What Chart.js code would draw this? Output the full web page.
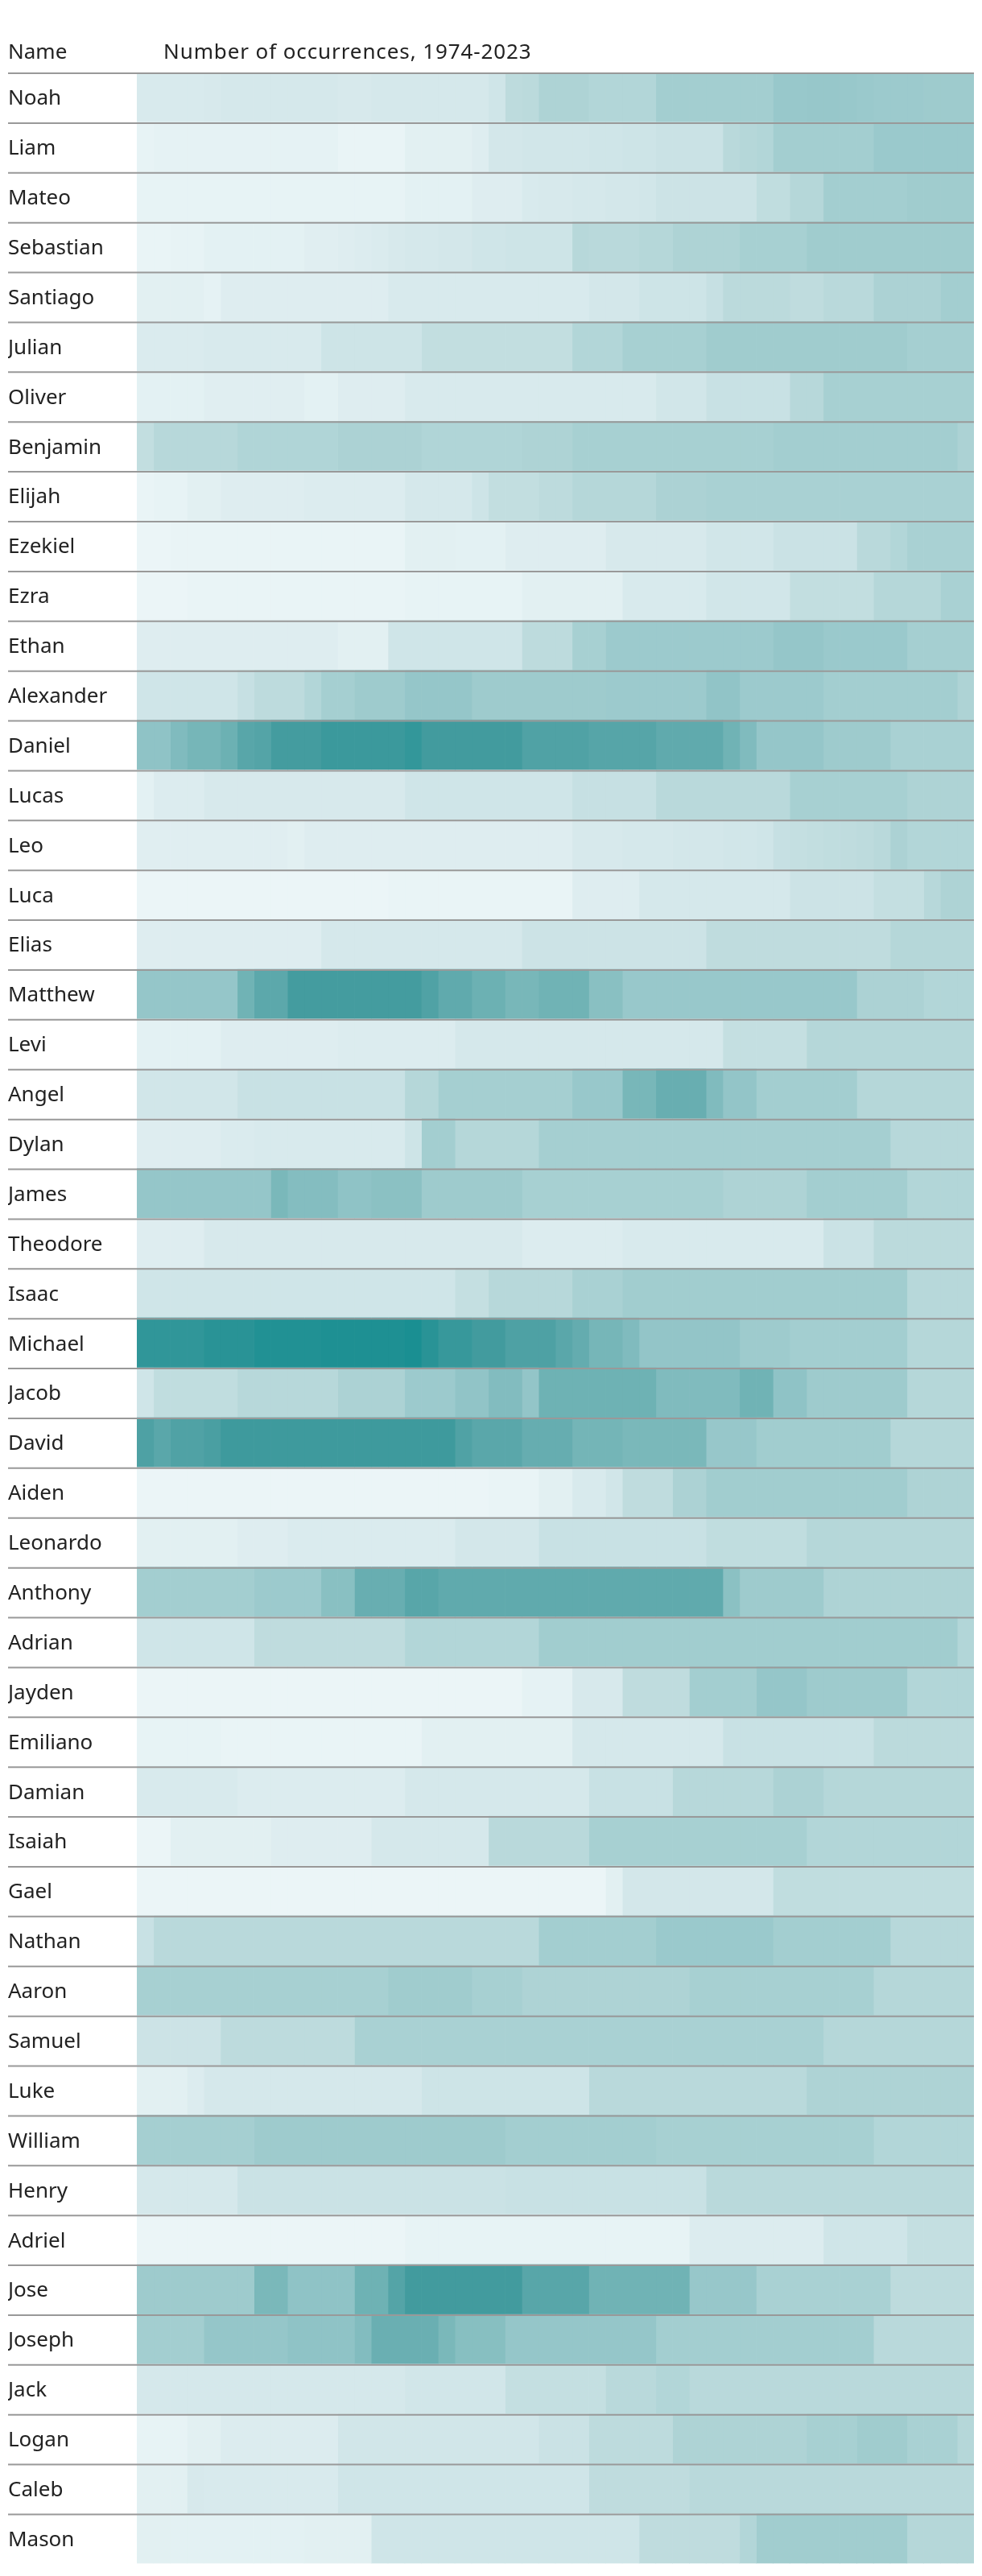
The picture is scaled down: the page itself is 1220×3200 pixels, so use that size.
<!DOCTYPE html>
<html>
<head>
<meta charset="utf-8">
<script src="https://cdn.jsdelivr.net/npm/chart.js@4.4.1/dist/chart.umd.min.js"></script>
<style>
  html, body { margin: 0; padding: 0; background: #ffffff; }
  #wrap { position: relative; width: 1220px; height: 3200px; }
  .hdr { position: absolute; top: 50px; font-family: "Noto Sans", sans-serif; font-size: 26px; line-height: 26px; color: #222222; white-space: nowrap; }
</style>
</head>
<body>
<div id="wrap">
  <canvas id="chart"></canvas>
  <div class="hdr" style="left:10px;">Name</div>
  <div class="hdr" style="left:203px; letter-spacing:0.9px;">Number of occurrences, 1974-2023</div>
</div>
<script>
const names = ["Noah","Liam","Mateo","Sebastian","Santiago","Julian","Oliver","Benjamin","Elijah","Ezekiel","Ezra","Ethan","Alexander","Daniel","Lucas","Leo","Luca","Elias","Matthew","Levi","Angel","Dylan","James","Theodore","Isaac","Michael","Jacob","David","Aiden","Leonardo","Anthony","Adrian","Jayden","Emiliano","Damian","Isaiah","Gael","Nathan","Aaron","Samuel","Luke","William","Henry","Adriel","Jose","Joseph","Jack","Logan","Caleb","Mason"];

const years = [1974,1975,1976,1977,1978,1979,1980,1981,1982,1983,1984,1985,1986,1987,1988,1989,1990,1991,1992,1993,1994,1995,1996,1997,1998,1999,2000,2001,2002,2003,2004,2005,2006,2007,2008,2009,2010,2011,2012,2013,2014,2015,2016,2017,2018,2019,2020,2021,2022,2023];

const noah = [13,13,13,13,14,15,15,15,15,15,15,15,14,14,15,15,15,15,15,15,15,18,28,29,35,35,35,33,33,33,33,40,40,40,40,40,40,40,46,46,47,47,46,45,44,44,44,43,43,43];
const liam = [5,6,6,6,6,6,6,6,6,6,6,6,4,4,4,4,8,8,8,8,10,16,16,17,17,17,17,18,18,19,19,21,21,21,21,30,32,33,40,40,40,40,40,40,45,45,45,45,45,45];
const mateo = [5,5,5,5,5,5,5,5,5,5,5,5,5,5,5,5,7,7,7,7,10,10,10,13,14,14,15,15,16,16,17,20,20,20,20,20,20,26,26,32,32,40,40,40,40,40,42,42,42,42];
const sebastian = [4,4,5,5,7,7,7,7,7,7,9,9,10,11,12,14,15,15,16,16,18,18,19,19,19,19,31,30,30,30,32,32,35,35,35,35,38,38,38,38,42,42,42,42,42,42,42,42,42,42];
const santiago = [8,8,8,8,6,10,10,10,10,10,10,10,10,10,10,13,13,13,13,13,13,13,13,13,13,13,13,16,16,16,19,19,19,19,23,29,29,29,29,27,27,30,30,30,36,36,36,36,40,40];
const julian = [12,12,12,12,13,13,13,13,13,13,13,19,19,19,19,19,19,25,25,25,25,25,25,25,25,25,33,33,33,38,38,38,38,38,42,42,42,42,42,42,42,42,42,42,42,42,39,39,39,39];
const oliver = [7,7,7,7,9,9,9,9,9,9,7,7,10,10,10,10,13,13,13,13,13,13,13,13,13,13,13,13,13,13,13,17,17,17,22,22,22,22,22,31,31,38,38,38,38,38,38,38,38,38];
const benjamin = [25,31,31,31,31,31,34,34,34,34,34,34,36,36,36,36,36,34,34,34,34,34,34,35,35,35,38,38,38,38,38,38,38,38,38,38,38,38,40,40,40,40,40,40,40,40,40,40,40,36];
const elijah = [4,5,5,8,8,10,10,10,10,10,11,11,11,11,11,11,15,15,15,15,19,25,25,25,28,28,32,32,32,32,32,36,36,36,37,37,37,37,37,37,37,37,37,37,37,37,37,37,37,37];
const ezekiel = [3,3,4,4,4,4,4,4,4,4,4,4,4,4,4,4,8,8,8,7,7,7,10,10,10,10,10,10,14,14,14,14,14,14,17,17,17,17,21,21,21,21,21,30,30,33,37,37,37,37];
const ezra = [3,3,3,4,4,4,4,4,4,4,4,4,4,4,4,4,5,5,5,5,5,5,5,8,8,8,8,8,8,13,13,13,13,13,17,17,17,17,17,25,25,25,25,25,32,32,32,32,37,37];
const ethan = [10,10,10,10,10,10,10,10,10,10,10,10,8,8,8,18,18,18,18,18,18,18,18,28,28,28,38,38,44,44,44,44,44,44,44,44,44,44,48,48,48,45,45,45,45,45,39,39,39,39];
const alexander = [18,18,18,18,18,18,23,28,28,28,33,39,39,43,43,43,48,48,48,48,43,43,43,43,43,43,43,43,44,44,44,44,44,44,50,50,44,44,44,44,44,40,40,40,40,40,40,40,40,35];
const daniel = [51,51,58,63,63,68,78,80,88,88,88,91,91,91,91,91,93,89,89,89,89,89,89,82,82,82,82,79,79,79,79,74,74,74,74,66,58,48,48,48,48,43,43,43,43,37,37,37,37,37];
const lucas = [7,11,11,11,14,14,14,14,14,14,14,14,14,14,14,14,18,18,18,18,18,18,18,18,18,18,23,23,23,23,23,30,30,30,30,30,30,30,30,38,38,38,38,38,38,38,35,35,35,35];
const leo = [9,9,9,9,9,9,9,9,9,8,10,10,10,10,10,10,10,10,10,10,10,10,10,10,10,10,14,14,14,15,15,15,16,16,16,17,17,18,23,24,25,26,27,28,30,36,33,33,33,33];
const luca = [3,3,3,3,3,3,3,3,3,3,3,3,3,3,3,4,4,4,4,4,4,4,4,4,4,4,10,10,10,10,15,15,15,15,15,15,15,15,15,20,20,20,20,20,24,24,24,31,35,35];
const elias = [10,10,10,10,10,10,10,10,10,10,10,15,15,15,15,15,15,15,15,15,15,15,15,20,20,20,20,20,20,20,20,20,20,20,27,27,27,27,27,27,27,27,27,27,27,32,32,32,32,32];
const matthew = [48,48,48,48,48,48,66,76,76,88,88,88,88,88,88,88,88,82,74,74,68,68,62,62,66,66,66,54,54,46,46,46,46,46,46,46,46,46,46,46,46,46,46,36,36,36,36,33,33,33];
const levi = [7,7,7,7,7,10,10,10,10,10,10,10,11,11,11,11,11,11,11,15,15,15,15,15,15,15,15,15,15,15,15,15,15,15,15,24,24,24,24,24,32,32,32,32,32,32,32,32,32,32];
const angel = [17,17,17,17,17,17,22,22,22,22,22,22,22,22,22,22,32,32,39,39,39,39,39,39,39,39,46,46,46,62,62,70,70,70,58,49,49,40,40,40,40,40,40,32,32,32,32,32,32,32];
const dylan = [10,10,10,10,10,12,12,13,13,13,13,13,13,13,13,13,19,40,40,32,32,32,32,32,39,39,39,39,39,39,39,39,39,39,39,39,39,39,39,39,39,39,39,39,39,31,31,31,31,31];
const james = [48,48,48,48,48,48,48,48,61,56,56,56,51,51,53,53,53,43,43,43,43,43,43,38,38,38,38,38,38,38,38,38,38,38,38,35,35,35,35,35,40,40,40,40,40,40,33,33,33,33];
const theodore = [10,10,10,10,14,14,14,14,14,14,14,14,14,14,14,14,14,14,14,14,14,14,14,11,11,11,11,11,11,13,13,13,13,13,13,13,13,13,13,13,13,21,21,21,29,29,29,29,29,29];
const isaac = [18,18,18,18,18,18,18,18,18,18,18,18,18,18,18,18,18,18,18,24,24,31,31,31,31,31,37,37,37,41,41,41,41,41,41,41,41,41,41,41,41,41,41,41,41,41,31,31,31,31];
const michael = [94,94,94,94,96,96,96,98,98,98,98,99,99,99,99,99,100,96,92,92,89,89,83,83,83,77,72,63,63,58,49,49,49,49,49,49,43,43,43,40,40,40,40,40,40,40,32,32,32,32];
const jacob = [18,26,26,26,26,26,31,31,31,31,31,31,36,36,36,36,44,44,44,50,50,57,57,49,67,67,67,67,67,67,67,58,58,58,58,58,66,66,51,51,43,43,43,43,43,43,32,32,32,32];
const david = [83,77,82,82,85,90,90,90,90,90,90,90,90,90,90,90,90,90,90,82,77,77,77,71,71,71,64,64,64,61,61,61,61,61,47,47,47,41,41,41,41,41,41,41,41,32,32,32,32,32];
const aiden = [3,3,3,3,3,3,3,3,3,3,3,3,3,3,3,3,3,3,3,3,3,4,4,4,8,8,13,13,17,27,27,27,36,36,41,41,41,41,41,41,41,41,41,41,41,41,35,35,35,35];
const leonardo = [8,8,8,8,8,8,10,10,10,12,12,12,12,12,12,12,12,12,12,16,16,16,16,16,22,22,22,22,22,22,22,22,22,22,26,26,26,26,26,26,32,32,32,32,32,32,32,32,32,32];
const anthony = [40,40,40,40,40,40,40,44,44,44,44,54,54,70,70,70,78,78,74,74,74,74,74,74,74,74,74,74,74,74,74,74,74,74,74,53,43,43,43,43,43,35,35,35,35,35,35,35,35,35];
const adrian = [18,18,18,18,18,18,18,27,27,27,27,27,27,27,27,27,33,33,33,33,33,33,33,33,41,41,41,41,41,41,41,41,41,41,41,41,41,41,41,41,41,41,41,41,41,41,41,41,41,33];
const jayden = [3,3,3,3,3,3,3,3,3,3,3,3,3,3,3,3,3,3,3,3,3,3,3,6,6,6,14,14,14,27,27,27,27,40,40,40,40,48,48,48,43,43,43,43,43,43,33,33,33,33];
const emiliano = [5,5,5,5,5,4,4,4,4,4,4,4,4,4,4,4,4,8,8,8,8,8,8,8,8,8,15,15,15,15,15,15,15,15,15,22,22,22,22,22,22,22,22,22,29,29,29,29,29,29];
const damian = [13,13,13,13,13,13,11,11,11,11,11,11,11,11,11,11,15,15,15,15,15,15,15,15,15,15,15,22,22,22,22,22,31,31,31,31,31,31,36,36,36,32,32,32,32,32,32,32,32,32];
const isaiah = [3,3,8,8,8,8,8,8,10,10,10,10,10,10,15,15,15,15,15,15,15,30,30,30,30,30,30,38,38,38,38,38,38,38,38,38,38,38,38,38,33,33,33,33,33,33,33,33,33,33];
const gael = [3,3,3,3,3,3,3,3,3,3,3,3,3,3,3,3,3,3,3,3,3,3,3,3,3,3,3,3,8,16,16,16,16,16,16,16,16,16,26,26,26,26,26,26,26,26,26,26,26,26];
const nathan = [22,30,30,30,30,30,30,30,30,30,30,30,30,30,30,30,30,30,30,30,30,30,30,30,40,40,40,40,40,40,40,45,45,45,45,45,45,45,40,40,40,40,40,40,40,31,31,31,31,31];
const aaron = [38,38,38,38,38,38,38,38,38,38,38,38,38,38,38,42,42,42,42,42,38,38,38,35,35,35,35,35,35,35,35,35,35,38,38,38,38,38,38,38,38,38,38,38,32,32,32,32,32,32];
const samuel = [20,20,20,20,20,28,28,28,28,28,28,28,28,37,37,37,37,37,37,37,37,37,37,37,37,37,37,37,37,37,37,37,37,37,37,37,37,37,37,37,37,32,32,32,32,32,32,32,32,32];
const luke = [8,8,8,11,15,15,15,15,15,15,15,15,15,15,15,15,15,19,19,19,19,19,19,19,19,19,19,30,30,30,30,30,30,30,30,30,30,30,30,30,35,35,35,35,35,35,35,35,35,35];
const william = [39,39,39,39,39,39,39,43,43,43,43,43,43,43,43,43,43,43,43,43,43,43,40,40,40,40,40,40,40,40,40,38,38,38,38,38,38,38,38,38,38,38,38,38,33,33,33,33,33,33];
const henry = [15,15,15,15,15,15,21,21,21,21,21,21,21,21,21,21,21,21,21,21,21,21,22,22,22,22,22,22,22,22,22,22,22,22,30,30,30,30,30,30,30,30,30,30,30,30,30,30,30,30];
const adriel = [3,3,3,3,3,3,3,3,3,3,3,3,3,3,3,3,5,5,5,5,5,5,5,5,5,5,5,5,5,5,5,5,5,11,11,11,11,11,11,11,11,18,18,18,18,18,24,24,24,24];
const jose = [43,43,43,43,43,43,43,61,61,51,51,51,51,67,67,80,89,89,89,89,89,89,89,78,78,78,78,66,66,66,66,66,66,47,47,47,47,37,37,37,37,37,37,37,37,28,28,28,28,28];
const joseph = [40,40,40,40,48,48,48,48,48,51,51,51,51,57,69,69,69,69,61,55,55,55,48,48,48,48,48,48,48,48,48,40,40,40,40,40,40,40,40,40,40,40,40,40,30,30,30,30,30,30];
const jack = [15,15,15,15,15,15,15,15,15,15,15,15,15,15,15,15,17,17,17,17,17,17,24,24,24,24,24,24,30,30,30,33,33,30,30,30,30,30,30,30,30,30,30,30,30,30,30,30,30,30];
const logan = [5,5,5,8,8,11,11,11,11,11,11,11,17,17,17,17,17,17,17,17,17,17,17,17,21,21,21,28,28,28,28,28,35,35,35,35,35,35,35,35,38,38,38,42,42,42,37,37,37,32];
const caleb = [8,8,8,14,13,13,13,13,13,13,13,13,18,18,18,18,18,18,18,18,18,18,18,18,18,18,18,27,27,27,27,27,27,30,30,30,30,30,30,30,30,30,30,30,30,30,30,30,30,30];
const mason = [8,8,7,7,7,7,7,7,7,7,8,8,8,8,18,18,18,18,18,18,18,18,18,18,18,18,18,18,18,18,27,27,27,27,27,27,33,41,41,41,41,41,41,41,41,41,32,32,32,32];

const occurrences = [noah,liam,mateo,sebastian,santiago,julian,oliver,benjamin,elijah,ezekiel,ezra,ethan,alexander,daniel,lucas,leo,luca,elias,matthew,levi,angel,dylan,james,theodore,isaac,michael,jacob,david,aiden,leonardo,anthony,adrian,jayden,emiliano,damian,isaiah,gael,nathan,aaron,samuel,luke,william,henry,adriel,jose,joseph,jack,logan,caleb,mason];

// colour scale (value -> colour)
const colorStops = [
  [0,   [240,248,250]],
  [16,  [211,231,234]],
  [30,  [185,217,219]],
  [39,  [165,207,209]],
  [49,  [147,197,200]],
  [61,  [122,184,186]],
  [76,  [92,168,171]],
  [89,  [66,155,158]],
  [100, [26,143,146]]
];
function colorFor(v) {
  if (v <= colorStops[0][0]) return 'rgb(' + colorStops[0][1].join(',') + ')';
  for (let i = 1; i < colorStops.length; i++) {
    const [v1, c1] = colorStops[i];
    const [v0, c0] = colorStops[i - 1];
    if (v <= v1) {
      const f = (v - v0) / (v1 - v0);
      const c = c0.map((a, j) => Math.round(a + (c1[j] - a) * f));
      return 'rgb(' + c.join(',') + ')';
    }
  }
  return 'rgb(' + colorStops[colorStops.length - 1][1].join(',') + ')';
}

const datasets = years.map((yr, k) => ({
  label: String(yr),
  data: names.map(() => [yr, yr + 1]),
  backgroundColor: occurrences.map(row => colorFor(row[k])),
  borderWidth: 0,
  borderSkipped: false,
  grouped: false,
  barPercentage: 1,
  categoryPercentage: 1
}));

const rowRules = {
  id: 'rowRules',
  afterDatasetsDraw(chart) {
    const { ctx, chartArea, scales } = chart;
    const y = scales.y;
    const band = y.getPixelForValue(1) - y.getPixelForValue(0);
    ctx.save();
    ctx.strokeStyle = '#999999';
    ctx.lineWidth = 2;
    names.forEach((n, i) => {
      const top = y.getPixelForValue(i) - band / 2;
      ctx.beginPath();
      ctx.moveTo(y.left, top + 1);
      ctx.lineTo(chartArea.right, top + 1);
      ctx.stroke();
    });
    ctx.restore();
  }
};

new Chart(document.getElementById('chart'), {
  type: 'bar',
  data: { labels: names, datasets },
  options: {
    indexAxis: 'y',
    responsive: true,
    maintainAspectRatio: false,
    devicePixelRatio: 1,
    animation: false,
    layout: { padding: { left: 10, top: 90, bottom: 10, right: 10 } },
    plugins: { legend: { display: false }, tooltip: { enabled: false }, title: { display: false } },
    scales: {
      x: { type: 'linear', min: 1974, max: 2024, display: false },
      y: {
        type: 'category',
        grid: { display: false },
        border: { display: false },
        ticks: {
          autoSkip: false,
          crossAlign: 'far',
          padding: 0,
          labelOffset: 2,
          color: '#222222',
          font: { family: '"Noto Sans", sans-serif', size: 26 }
        },
        afterFit(scale) { scale.width = 160; }
      }
    }
  },
  plugins: [rowRules]
});
</script>
</body>
</html>
